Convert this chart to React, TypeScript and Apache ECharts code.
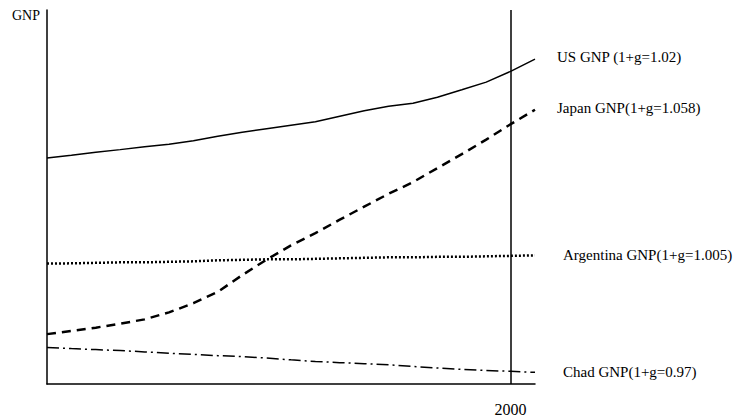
import React, { useEffect, useRef } from "react";
import * as echarts from "echarts";

const years = [1962, 1964, 1966, 1968, 1970, 1972, 1974, 1976, 1978, 1980, 1982, 1984, 1986, 1988, 1990, 1992, 1994, 1996, 1998, 2000, 2002];
const usGnp = [226.7, 229.4, 232.4, 235, 238, 240.5, 244, 248.5, 252.5, 256, 259.5, 263, 268.5, 274, 278.5, 281.5, 287.5, 295, 302.7, 313.5, 325.7];
const japanGnp = [50, 53.2, 56.5, 60.5, 64.8, 71.8, 81, 92.4, 109.2, 124.7, 139, 151.3, 164.8, 177.8, 190.7, 202.4, 216.5, 230.5, 245, 260.5, 275];
const argentinaGnp = [120.7, 121, 121.5, 122, 122, 122.5, 123, 124, 124.5, 125, 125, 125.5, 126, 126.5, 127, 127, 127.5, 127.5, 128, 128.5, 129];
const chadGnp = [36.7, 35.5, 34.5, 33.5, 32.2, 30.8, 29.7, 28.4, 27.5, 26, 24.2, 22.6, 21.4, 20.4, 19.2, 17.6, 16.1, 14.7, 13.6, 12.7, 11.7];
const seriesNames = ["US GNP (1+g=1.02)", "Japan GNP(1+g=1.058)", "Argentina GNP(1+g=1.005)", "Chad GNP(1+g=0.97)"];
const markYear = 2000;
const axisLabelValues = [2000];

const FONT = "'Liberation Serif', 'Times New Roman', serif";

export default function App() {
  const ref = useRef<HTMLDivElement>(null);
  useEffect(() => {
    if (!ref.current) return;
    const chart = echarts.init(ref.current, null, { renderer: "svg" });
    const pair = (vals: number[]) => years.map((y, i) => [y, vals[i]]);
    const labelStyle = (distance: number, dy: number) => ({
      show: true,
      formatter: "{a}",
      distance,
      offset: [0, dy],
      color: "#000",
      fontFamily: FONT,
      fontSize: 15,
    });
    chart.setOption({
      animation: false,
      backgroundColor: "#fff",
      grid: { left: 47, right: 210, top: 10, bottom: 32, containLabel: false },
      xAxis: {
        type: "value",
        min: 1962,
        max: 2002,
        splitLine: { show: false },
        axisTick: { show: false },
        axisLine: { show: true, onZero: false, lineStyle: { color: "#000", width: 1.5 } },
        axisLabel: {
          customValues: axisLabelValues,
          formatter: (v: number) => String(v),
          color: "#000",
          fontFamily: FONT,
          fontSize: 16,
          margin: 17,
        },
      },
      yAxis: {
        type: "value",
        min: 0,
        max: 375,
        splitLine: { show: false },
        axisTick: { show: false },
        axisLabel: { show: false },
        axisLine: { show: true, onZero: false, lineStyle: { color: "#000", width: 1.5 } },
      },
      graphic: [
        {
          type: "text",
          left: 12,
          top: 8,
          style: { text: "GNP", fill: "#000", font: `14px ${FONT}` },
        },
      ],
      series: [
        {
          name: seriesNames[0],
          type: "line",
          data: pair(usGnp),
          symbol: "none",
          lineStyle: { color: "#000", width: 1.5, type: "solid" },
          endLabel: labelStyle(22, -2),
          markLine: {
            silent: true,
            symbol: "none",
            label: { show: false },
            lineStyle: { color: "#000", width: 1.5, type: "solid" },
            data: [{ xAxis: markYear }],
          },
        },
        {
          name: seriesNames[1],
          type: "line",
          data: pair(japanGnp),
          symbol: "none",
          lineStyle: { color: "#000", width: 2.5, type: [9, 6] },
          endLabel: labelStyle(22, -2),
        },
        {
          name: seriesNames[2],
          type: "line",
          data: pair(argentinaGnp),
          symbol: "none",
          lineStyle: { color: "#000", width: 2.5, type: [2, 2] },
          endLabel: labelStyle(28, 0),
        },
        {
          name: seriesNames[3],
          type: "line",
          data: pair(chadGnp),
          symbol: "none",
          lineStyle: { color: "#000", width: 1.5, type: [12, 4, 2, 4] },
          endLabel: labelStyle(28, 0),
        },
      ],
    });
    return () => chart.dispose();
  }, []);
  return (
    <div
      ref={ref}
      style={{ position: "fixed", left: 0, top: 0, width: 745, height: 417, background: "#fff" }}
    />
  );
}
